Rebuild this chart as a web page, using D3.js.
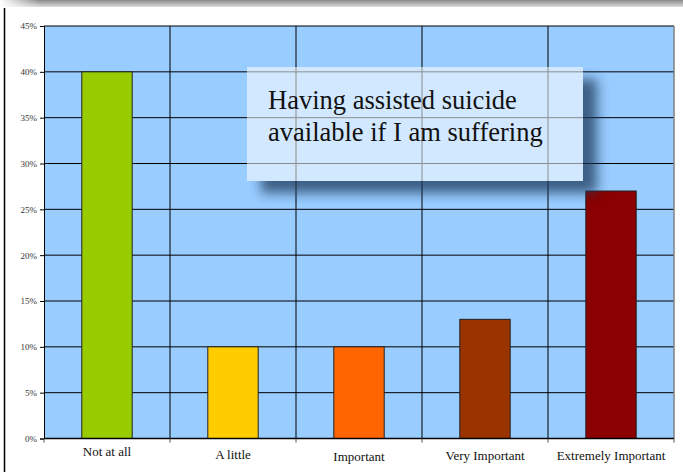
<!DOCTYPE html>
<html>
<head>
<meta charset="utf-8">
<script src="https://cdn.jsdelivr.net/npm/d3@7"></script>
<style>
  body { margin: 0; background: #fff; }
  svg { display: block; }
</style>
</head>
<body>
<script>
// survey answers, share of respondents (%)
var categories = ["Not at all", "A little", "Important", "Very Important", "Extremely Important"]
var values = [40, 10, 10, 13, 27]
var barColors = ["#99cc00", "#ffcc00", "#ff6600", "#993300", "#8b0000"]
var yTicks = [0, 5, 10, 15, 20, 25, 30, 35, 40, 45]
var titleLines = ["Having assisted suicide", "available if I am suffering"]

var width = 683, height = 472
var margin = {top: 26, right: 9, bottom: 33.5, left: 44}
var w = width - margin.left - margin.right,
    h = height - margin.top - margin.bottom

var svg = d3.select("body").append("svg")
    .attr("width", width)
    .attr("height", height)

var box = {x: 247, y: 67, w: 336, h: 114}

var defs = svg.append("defs")
var topGrad = defs.append("linearGradient").attr("id", "topbar")
    .attr("x1", 0).attr("y1", 0).attr("x2", 0).attr("y2", 1)
topGrad.append("stop").attr("offset", "0%").attr("stop-color", "#8a8a8a")
topGrad.append("stop").attr("offset", "100%").attr("stop-color", "#dcdcdc")
var fadeGrad = defs.append("linearGradient").attr("id", "fadeleft")
    .attr("x1", 0).attr("y1", 0).attr("x2", 1).attr("y2", 0)
fadeGrad.append("stop").attr("offset", "0%").attr("stop-color", "#fff").attr("stop-opacity", 1)
fadeGrad.append("stop").attr("offset", "100%").attr("stop-color", "#fff").attr("stop-opacity", 0)
defs.append("filter").attr("id", "blur")
    .attr("x", "-20%").attr("y", "-20%").attr("width", "140%").attr("height", "140%")
  .append("feGaussianBlur").attr("stdDeviation", 6)
// keep the shadow out from under the translucent box
var mask = defs.append("mask").attr("id", "noshadow")
mask.append("rect").attr("width", width).attr("height", height).attr("fill", "#fff")
mask.append("rect").attr("x", box.x).attr("y", box.y).attr("width", box.w).attr("height", box.h)
    .attr("fill", "#000")

// window chrome: grey strip on top, black edge on the left
svg.append("rect").attr("x", 0).attr("y", 0).attr("width", width).attr("height", 7)
    .attr("fill", "url(#topbar)")
svg.append("rect").attr("x", 0).attr("y", 0).attr("width", 40).attr("height", 7)
    .attr("fill", "url(#fadeleft)")
svg.append("line").attr("x1", 4.5).attr("x2", 4.5).attr("y1", 8).attr("y2", height)
    .attr("stroke", "#000").attr("stroke-width", 1.5)

var g = svg.append("g")
    .attr("transform", "translate(" + margin.left + "," + margin.top + ")")

var x_scale = d3.scaleBand().domain(categories).range([0, w])
var y_scale = d3.scaleLinear().domain([0, 45]).range([h, 0])

g.append("rect").attr("width", w).attr("height", h).attr("fill", "#99ccff")

// horizontal grid
g.append("g").selectAll("line").data(yTicks).join("line")
    .attr("x1", 0).attr("x2", w)
    .attr("y1", d => y_scale(d)).attr("y2", d => y_scale(d))
    .attr("stroke", "#000").attr("stroke-width", 1)

// vertical grid between categories
var bounds = categories.slice(1).map(c => x_scale(c))
g.append("g").selectAll("line").data(bounds).join("line")
    .attr("x1", d => d).attr("x2", d => d)
    .attr("y1", 0).attr("y2", h)
    .attr("stroke", "#000").attr("stroke-width", 1)

// right border
g.append("line").attr("x1", w).attr("x2", w).attr("y1", 0).attr("y2", h)
    .attr("stroke", "#808080").attr("stroke-width", 1.5)

// bars
var bw = x_scale.bandwidth() * 0.4
g.append("g").selectAll("rect").data(values).join("rect")
    .attr("x", (d, i) => x_scale(categories[i]) + (x_scale.bandwidth() - bw) / 2)
    .attr("y", d => y_scale(d))
    .attr("width", bw)
    .attr("height", d => h - y_scale(d))
    .attr("fill", (d, i) => barColors[i])
    .attr("stroke", "#222").attr("stroke-width", 1)

// y axis
var yAxis = d3.axisLeft(y_scale).tickValues(yTicks).tickFormat(d => d + "%").tickSize(4)
var y_axis = g.append("g").call(yAxis)
y_axis.select(".domain").attr("stroke", "#000")
y_axis.selectAll("text").attr("font-family", "Liberation Serif, serif")
    .attr("font-size", 9).attr("fill", "#333")

// x axis
var x_axis = g.append("g").attr("transform", "translate(0," + h + ")")
x_axis.append("line").attr("x1", 0).attr("x2", w).attr("stroke", "#000").attr("stroke-width", 1.5)
x_axis.selectAll(".tk").data([0].concat(bounds).concat([w])).join("line")
    .attr("x1", d => d).attr("x2", d => d).attr("y1", 0).attr("y2", 4)
    .attr("stroke", "#555")
x_axis.selectAll("text").data(categories).join("text")
    .attr("x", d => x_scale(d) + x_scale.bandwidth() / 2)
    .attr("y", (d, i) => [17, 20, 22, 21, 21][i])
    .attr("text-anchor", "middle")
    .attr("font-family", "Liberation Serif, serif")
    .attr("font-size", 13).attr("fill", "#111")
    .text(d => d)

// title box with drop shadow
svg.append("g").attr("mask", "url(#noshadow)")
  .append("rect")
    .attr("x", box.x + 14).attr("y", box.y + 12)
    .attr("width", box.w).attr("height", box.h)
    .attr("fill", "#1f3a5c").attr("opacity", 0.75)
    .attr("filter", "url(#blur)")
svg.append("rect")
    .attr("x", box.x).attr("y", box.y).attr("width", box.w).attr("height", box.h)
    .attr("fill", "#fff").attr("fill-opacity", 0.55)
svg.append("g").selectAll("text").data(titleLines).join("text")
    .attr("x", 268)
    .attr("y", (d, i) => 109 + i * 32)
    .attr("font-family", "Liberation Serif, serif")
    .attr("font-size", 26.5).attr("fill", "#111")
    .text(d => d)
</script>
</body>
</html>
